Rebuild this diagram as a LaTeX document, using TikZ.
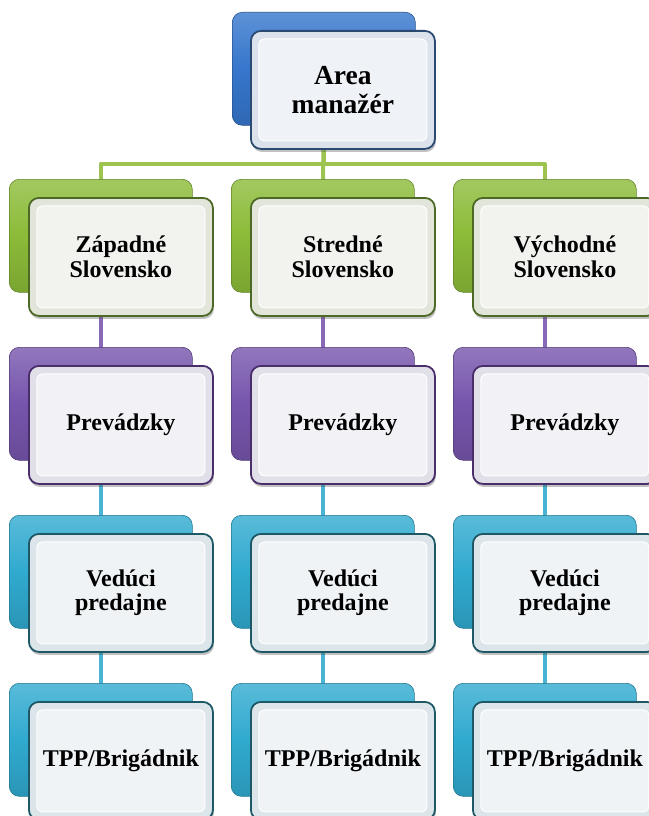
\documentclass[tikz,border=0pt]{standalone}
\usepackage{fontspec}
\setmainfont{Liberation Serif}
\usetikzlibrary{shadows}
\definecolor{cblue}{HTML}{3676CC}
\definecolor{cgreen}{HTML}{8BBB38}
\definecolor{cpurple}{HTML}{7655AC}
\definecolor{ccyan}{HTML}{30AACF}
\definecolor{lgreen}{HTML}{9DC451}
\definecolor{lpurple}{HTML}{8A68B8}
\definecolor{lcyan}{HTML}{48B4D4}
\definecolor{tblue}{HTML}{DCE2EB}
\definecolor{tgreen}{HTML}{E2E5DA}
\definecolor{tpurple}{HTML}{E1DFE8}
\definecolor{tcyan}{HTML}{DCE5E9}
\definecolor{dblue}{HTML}{2A4A72}
\definecolor{dgreen}{HTML}{4C6A26}
\definecolor{dpurple}{HTML}{4A2E6C}
\definecolor{dcyan}{HTML}{1E5866}
\pgfdeclarelayer{bg}
\pgfsetlayers{bg,main}
\tikzset{
  backbox/.style={draw=#1!70!black, line width=0.6pt, rounded corners=10pt,
    minimum width=183pt, minimum height=113pt, anchor=north west, inner sep=0pt,
    top color=#1!80!white, bottom color=#1!88!black, middle color=#1},
  frontbox/.style 2 args={draw=#1, line width=1.8pt, rounded corners=10pt,
    minimum width=184pt, minimum height=118pt, anchor=north west, inner sep=0pt,
    align=center, fill=#2, text=black,
    drop shadow={shadow xshift=1pt, shadow yshift=-3pt, opacity=0.35, fill=black!70},
    path picture={\draw[white, line width=1pt, rounded corners=6pt, fill=#2!45!white]
      ([shift={(8pt,-8pt)}]path picture bounding box.north west) rectangle
      ([shift={(-8pt,8pt)}]path picture bounding box.south east);}},
  lowtext/.style={font=\fontsize{24}{24.5}\selectfont\bfseries, align=center},
  toptext/.style={font=\fontsize{27.5}{28.5}\selectfont\bfseries},
  conn/.style={draw=#1, line width=4pt, line join=round}
}
\begin{document}
\begin{tikzpicture}[x=1pt, y=-1pt]
\useasboundingbox (0,0) rectangle (648,816);
% top
\node[backbox=cblue] (b0) at (232,12) {};
\node[frontbox={dblue}{tblue}, toptext] (f0) at (250,30) {Area\\manažér};
% rows
\foreach \r/\y/\col in {1/179/cgreen, 2/347/cpurple, 3/515/ccyan, 4/683/ccyan}{
  \foreach \c/\x in {1/9, 2/231, 3/453}{
    \node[backbox=\col] (b\r-\c) at (\x,\y) {};
  }
}
\foreach \r/\y/\dcol/\tcol in {1/197/dgreen/tgreen, 2/365/dpurple/tpurple, 3/533/dcyan/tcyan, 4/701/dcyan/tcyan}{
  \foreach \c/\x in {1/28, 2/250, 3/472}{
    \node[frontbox={\dcol}{\tcol}] (f\r-\c) at (\x,\y) {};
  }
}
\node[lowtext] (t1-1) at (f1-1.center) {Západné\\Slovensko};
\node[lowtext] (t1-2) at (f1-2.center) {Stredné\\Slovensko};
\node[lowtext] (t1-3) at (f1-3.center) {Východné\\Slovensko};
\foreach \c in {1,2,3}{
  \node[lowtext] (t2-\c) at (f2-\c.center) {Prevádzky};
  \node[lowtext] (t3-\c) at (f3-\c.center) {Vedúci\\predajne};
  \node[lowtext] (t4-\c) at (f4-\c.center) {TPP/Brigádnik};
}
% connectors
\coordinate (hb) at (0,164);
\begin{pgfonlayer}{bg}
\draw[conn=lgreen] (b0.center) -- (b0.center |- hb) -| (b1-1.center);
\draw[conn=lgreen] (b0.center |- hb) -| (b1-3.center);
\draw[conn=lgreen] (b0.center) -- (b1-2.center);
\foreach \c in {1,2,3}{
  \draw[conn=lpurple] (b1-\c.center) -- (b2-\c.center);
  \draw[conn=lcyan] (b2-\c.center) -- (b3-\c.center);
  \draw[conn=lcyan] (b3-\c.center) -- (b4-\c.center);
}
\end{pgfonlayer}
\end{tikzpicture}
\end{document}
